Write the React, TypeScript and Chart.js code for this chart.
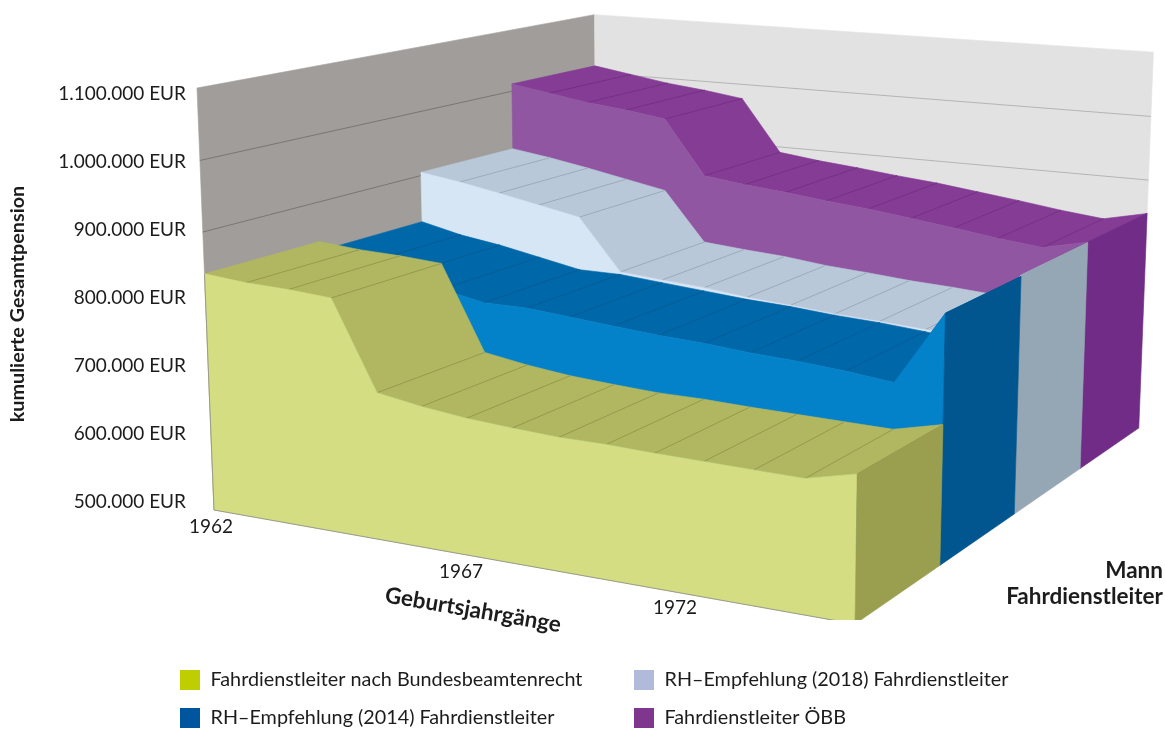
import React, { useEffect, useRef } from "react";
import { Chart, registerables } from "chart.js";

Chart.register(...registerables);

// ---- data (EUR, one value per birth year) ----
const YEARS = [1962, 1963, 1964, 1965, 1966, 1967, 1968, 1969, 1970, 1971, 1972, 1973, 1974, 1975, 1976];
const BUNDESBEAMTENRECHT = [841000, 836000, 834000, 830000, 707000, 697000, 690000, 686000, 683000, 683000, 681000, 680000, 679000, 678000, 694000];
const RH_2014 = [827000, 813000, 804000, 792000, 780000, 780000, 775000, 770000, 765000, 762000, 757000, 754000, 749000, 742000, 844000];
const RH_2018 = [905000, 896000, 885000, 873000, 861000, 784000, 779000, 775000, 768000, 764000, 759000, 756000, 752000, 749000, 846000];
const OEBB = [1012000, 1002000, 992000, 985000, 976000, 891000, 883000, 877000, 870000, 864000, 856000, 848000, 839000, 832000, 847000];
const VALUE_TICKS = [500000, 600000, 700000, 800000, 900000, 1000000, 1100000];
const YEAR_LABELS = ["1962", "1967", "1972"];
const LEGEND_NAMES = [
  "Fahrdienstleiter nach Bundesbeamtenrecht",
  "RH\u2013Empfehlung (2014) Fahrdienstleiter",
  "RH\u2013Empfehlung (2018) Fahrdienstleiter",
  "Fahrdienstleiter \u00d6BB",
];

// ---- styling ----
const FONT = "Lato, 'Open Sans', sans-serif";
const TEXT = "#1c1c1c";
const BANDS = [
  { values: OEBB, z: 0.75, front: "#9056A2", top: "#853C94", side: "#702C86", line: "#6f2a80" },
  { values: RH_2018, z: 0.5, front: "#D7E6F5", top: "#B8C8D8", side: "#95A6B4", line: "#96a6b4" },
  { values: RH_2014, z: 0.25, front: "#0482C9", top: "#0068A9", side: "#02568F", line: "#02558e" },
  { values: BUNDESBEAMTENRECHT, z: 0, front: "#D4DD81", top: "#B1B761", side: "#9A9F50", line: "#8f9444" },
];
const LEGEND_COLORS = ["#BFCE00", "#00569E", "#B0BADB", "#7E368F"];
const LEGEND_SPOTS = [[180, 680], [180, 718], [634, 680], [634, 718]];
const YEAR_SPOTS = [[211, 527], [461, 572], [675, 608]];

// ---- camera: a projective map of the unit cube to the page ----
const O = [214, 510];
const X = [855, 624];
const Y = [197, 88];
const Z = [597, 355.4];
const WX = 0.88, WY = 0.965, WZ = 1.246;
const DEPTH = 0.25;

type Pt = { x: number; y: number };
const MIN_V = VALUE_TICKS[0];
const SPAN_V = VALUE_TICKS[VALUE_TICKS.length - 1] - MIN_V;

function project(u: number, value: number, z: number): Pt {
  const v = (value - MIN_V) / SPAN_V;
  const d = 1 + u * (WX - 1) + v * (WY - 1) + z * (WZ - 1);
  const hx = O[0] + u * (WX * X[0] - O[0]) + v * (WY * Y[0] - O[0]) + z * (WZ * Z[0] - O[0]);
  const hy = O[1] + u * (WX * X[1] - O[1]) + v * (WY * Y[1] - O[1]) + z * (WZ * Z[1] - O[1]);
  return { x: hx / d, y: hy / d };
}

const BASE = MIN_V;
const TOP = VALUE_TICKS[VALUE_TICKS.length - 1];

function poly(points: Pt[], color: string, edge?: string, width = 0.6) {
  return {
    type: "line",
    data: [...points, points[0]],
    xAxisID: "x",
    yAxisID: "y",
    fill: "shape",
    backgroundColor: color,
    borderColor: edge ?? color,
    borderWidth: width,
    pointRadius: 0,
    tension: 0,
  };
}
function stroke(points: Pt[], color: string, width = 0.8) {
  return {
    type: "line",
    data: points,
    xAxisID: "x",
    yAxisID: "y",
    fill: false,
    borderColor: color,
    borderWidth: width,
    pointRadius: 0,
    tension: 0,
  };
}

function buildDatasets() {
  const out: any[] = [];
  const last = YEARS.length - 1;
  const u = (i: number) => i / last;
  // walls
  out.push(poly([project(0, BASE, 0), project(0, TOP, 0), project(0, TOP, 1), project(0, BASE, 1)], "#A19D9B"));
  out.push(poly([project(0, BASE, 1), project(0, TOP, 1), project(1, TOP, 1), project(1, BASE, 1)], "#E2E2E2"));
  for (const t of VALUE_TICKS) {
    if (t === TOP) continue;
    out.push(stroke([project(0, t, 0), project(0, t, 1)], "#6f6b69", 0.8));
    out.push(stroke([project(0, t, 1), project(1, t, 1)], "#a8a8a8", 0.8));
  }
  // series, back to front
  for (const b of BANDS) {
    const z0 = b.z;
    const z1 = b.z + DEPTH;
    for (let i = 0; i < last; i++) {
      out.push(
        poly(
          [project(u(i), b.values[i], z0), project(u(i), b.values[i], z1), project(u(i + 1), b.values[i + 1], z1), project(u(i + 1), b.values[i + 1], z0)],
          b.top
        )
      );
    }
    for (let i = 1; i <= last; i++) {
      out.push(stroke([project(u(i), b.values[i], z0), project(u(i), b.values[i], z1)], b.line, 0.8));
    }
    const frontPts = b.values.map((val, i) => project(u(i), val, z0));
    out.push(poly([...frontPts, project(1, BASE, z0), project(0, BASE, z0)], b.front));
    out.push(
      poly(
        [project(1, b.values[last], z0), project(1, b.values[last], z1), project(1, BASE, z1), project(1, BASE, z0)],
        b.side
      )
    );
  }
  // base line of the left edge and of the front
  out.push(stroke([project(0, BANDS[3].values[0], 0), project(0, BASE, 0), project(1, BASE, 0)], "#9a9a8c", 1));
  return out.reverse();
}

const formatEur = (v: number) => v.toString().replace(/\B(?=(\d{3})+(?!\d))/g, ".") + " EUR";

const textPlugin = {
  id: "pageText",
  afterDraw(chart: any) {
    const ctx = chart.ctx as CanvasRenderingContext2D;
    ctx.save();
    ctx.fillStyle = TEXT;
    ctx.textBaseline = "middle";

    ctx.font = `19px ${FONT}`;
    ctx.textAlign = "center";
    YEAR_LABELS.forEach((t, i) => ctx.fillText(t, YEAR_SPOTS[i][0], YEAR_SPOTS[i][1]));

    ctx.font = `bold 19.8px ${FONT}`;
    ctx.save();
    ctx.translate(18, 304);
    ctx.rotate(-Math.PI / 2);
    ctx.fillText("kumulierte Gesamtpension", 0, 0);
    ctx.restore();

    ctx.font = `bold 22.5px ${FONT}`;
    ctx.textAlign = "right";
    ctx.fillText("Mann", 1163, 571);
    ctx.fillText("Fahrdienstleiter", 1163, 597);

    ctx.save();
    ctx.translate(473, 610);
    ctx.rotate((9.7 * Math.PI) / 180);
    ctx.textAlign = "center";
    ctx.fillText("Geburtsjahrg\u00e4nge", 0, 0);
    ctx.restore();

    ctx.font = `19.8px ${FONT}`;
    ctx.textAlign = "left";
    LEGEND_NAMES.forEach((name, i) => {
      const [sx, sy] = LEGEND_SPOTS[i];
      ctx.fillStyle = LEGEND_COLORS[i];
      ctx.fillRect(sx, sy - 10, 20, 20);
      ctx.fillStyle = TEXT;
      ctx.fillText(name, sx + 30.5, sy);
    });
    ctx.restore();
  },
};

export default function App() {
  const ref = useRef<HTMLCanvasElement>(null);
  useEffect(() => {
    const pxPer100k = 68;
    const labelY500k = 502;
    const chart = new Chart(ref.current as HTMLCanvasElement, {
      type: "line",
      data: { datasets: buildDatasets() },
      plugins: [textPlugin],
      options: {
        animation: false,
        responsive: false,
        devicePixelRatio: 1,
        events: [],
        layout: { padding: { bottom: 109, left: 0, right: 0, top: 0 } },
        plugins: { legend: { display: false }, tooltip: { enabled: false } },
        scales: {
          x: { type: "linear", display: false, min: 188, max: 1165 },
          y: { type: "linear", display: false, min: 0, max: 620, reverse: true },
          yAxis: {
            type: "linear",
            position: "left",
            min: 500000 - ((620 - labelY500k) / pxPer100k) * 100000,
            max: 500000 + (labelY500k / pxPer100k) * 100000,
            afterBuildTicks: (s: any) => {
              s.ticks = VALUE_TICKS.map((value) => ({ value }));
            },
            afterFit: (s: any) => {
              s.width = 188;
              s.paddingTop = 0;
              s.paddingBottom = 0;
            },
            grid: { display: false, drawTicks: false },
            border: { display: false },
            ticks: {
              autoSkip: false,
              padding: 2,
              color: TEXT,
              font: { family: FONT, size: 19 },
              callback: (v: any) => formatEur(Number(v)),
            },
          },
        },
      },
    } as any);
    return () => chart.destroy();
  }, []);
  return (
    <div style={{ position: "absolute", left: 0, top: 0, width: 1165, height: 729, background: "#fff" }}>
      <canvas ref={ref} width={1165} height={729} style={{ display: "block" }} />
    </div>
  );
}
